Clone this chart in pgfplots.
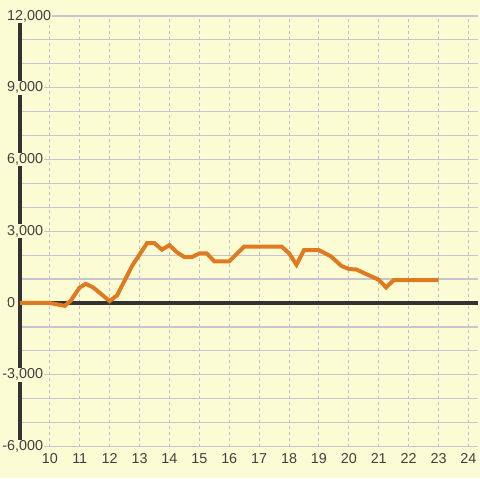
\documentclass[border=0pt]{standalone}
\usepackage{pgfplots}
\pgfplotsset{compat=1.18}
\usepackage{fontspec}
\setmainfont{Liberation Sans}
\definecolor{bgc}{RGB}{252,252,212}
\definecolor{gridc}{RGB}{198,198,208}
\definecolor{vgridc}{RGB}{190,190,200}
\definecolor{darkc}{RGB}{51,51,51}
\definecolor{linec}{RGB}{224,122,32}
\definecolor{textc}{RGB}{64,64,64}
\pagecolor{bgc}
\begin{document}
\begin{tikzpicture}
\path (0,0) rectangle (360bp,360bp);
\begin{axis}[
  set layers=standard,
  at={(15bp,24bp)}, anchor=south west,
  scale only axis, width=345bp, height=324bp,
  xmin=9, xmax=24.3333, ymin=-6000, ymax=12000,
  scaled y ticks=false, scaled x ticks=false,
  axis line style={draw=none},
  tick style={draw=none},
  major tick length=0pt, minor tick length=0pt,
  xtick={10,11,...,24},
  ytick={-6000,-3000,0,3000,6000,9000,12000},
  yticklabels={{\llap{-}6,000},{\llap{-}3,000},{0},{3,000},{6,000},{9,000},{12,000}},
  minor y tick num=2,
  xmajorgrids, ymajorgrids, yminorgrids,
  major x grid style={draw=vgridc, dash pattern=on 2.25bp off 2.25bp, line width=0.75bp},
  major y grid style={draw=gridc, solid, line width=0.9bp},
  minor y grid style={draw=gridc, solid, line width=0.9bp},
  extra x ticks={9}, extra x tick labels={},
  extra x tick style={xmajorgrids, major x grid style={draw=darkc, solid, line width=2.4bp}},
  extra y ticks={0}, extra y tick labels={},
  extra y tick style={ymajorgrids, major y grid style={draw=darkc, solid, line width=2.4bp}},
  /pgf/number format/assume math mode=true,
  tick label style={font=\fontsize{10.8bp}{13bp}\selectfont, text=textc},
  yticklabel style={anchor=west, xshift=-10.5bp, inner sep=0.75bp, fill=bgc},
  xticklabel style={anchor=north, yshift=-4.5bp, inner sep=0.75bp},
]
\addplot[linec, line width=3bp] coordinates {
(9,0) (10,0) (10.25,-60) (10.5,-120) (10.7,100) (11,650) (11.2,800) (11.45,650)
(12,80) (12.25,320) (12.75,1550) (13.25,2500) (13.5,2500) (13.75,2230) (14,2420)
(14.25,2120) (14.5,1920) (14.75,1920) (15,2070) (15.25,2070) (15.5,1740) (16,1740)
(16.5,2360) (17.75,2360) (18,2080) (18.25,1600) (18.5,2210) (19,2210) (19.4,1950)
(19.75,1550) (20,1420) (20.25,1400) (21,970) (21.25,650) (21.5,960) (23,960)
};
\end{axis}
\end{tikzpicture}
\end{document}
